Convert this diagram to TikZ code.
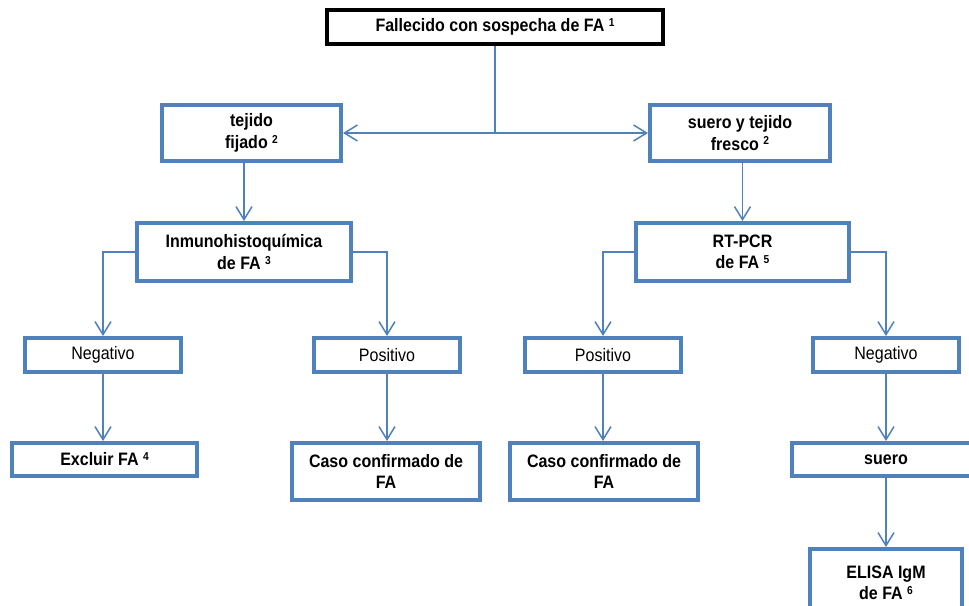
\documentclass[tikz,border=0pt]{standalone}
\usepackage{fontspec}
\setmainfont{Liberation Sans}[FakeStretch=0.89]
\usetikzlibrary{arrows.meta}

\definecolor{flowblue}{RGB}{79,129,189}
\newcommand{\fnref}[1]{\raisebox{0.55ex}{\fontsize{11.5}{11.5}\selectfont #1}}

\begin{document}
\begin{tikzpicture}[
  x=1pt, y=-1pt,
  rootbox/.style={rectangle, draw=black, line width=4pt, inner sep=0pt, font=\fontsize{18}{21.5}\selectfont\bfseries},
  stepbox/.style={rectangle, draw=flowblue, line width=4pt, inner sep=0pt, align=center, font=\fontsize{18}{21.5}\selectfont\bfseries},
  resbox/.style={stepbox, font=\fontsize{18}{21.5}\selectfont},
  link/.style={draw=flowblue, line width=1.5pt},
  arrowlink/.style={link, -{Straight Barb[length=13pt,width=16pt]}}
]
  \useasboundingbox (0,0) rectangle (969,605);
  \clip (0,0) rectangle (969,605);
  \fill [white] (0,0) rectangle (969,605);

  \node (root) [rootbox, minimum width=336pt, minimum height=34pt] at (495,27) {Fallecido con sospecha de FA \fnref{1}};

  \node (tejido) [stepbox, minimum width=179pt, minimum height=56pt] at (251.5,133) {tejido\\fijado \fnref{2}};
  \node (fresco) [stepbox, minimum width=180pt, minimum height=56pt] at (740,133) {suero y tejido\\fresco \fnref{2}};

  \node (ihq) [stepbox, minimum width=214pt, minimum height=58pt] at (244,252) {Inmunohistoquímica\\de FA \fnref{3}};
  \node (pcr) [stepbox, minimum width=213pt, minimum height=58pt] at (742.5,252) {RT-PCR\\de FA \fnref{5}};

  \node (ihqneg) [resbox, minimum width=156pt, minimum height=34pt] at (103,355) {Negativo};
  \node (ihqpos) [resbox, minimum width=146pt, minimum height=34pt] at (387,355) {Positivo};
  \node (pcrpos) [resbox, minimum width=156pt, minimum height=34pt] at (603,355) {Positivo};
  \node (pcrneg) [resbox, minimum width=146pt, minimum height=34pt] at (886,355) {Negativo};

  \node (excluir) [stepbox, minimum width=185pt, minimum height=33pt] at (104.5,459.5) {Excluir FA \fnref{4}};
  \node (caso1) [stepbox, minimum width=188pt, minimum height=57pt] at (386,471.5) {Caso confirmado de\\FA};
  \node (caso2) [stepbox, minimum width=188pt, minimum height=57pt] at (604,471.5) {Caso confirmado de\\FA};
  \node (suero) [stepbox, minimum width=188pt, minimum height=33pt] at (886,459.5) {suero};
  \node (elisa) [stepbox, minimum width=152pt, minimum height=68pt] at (886,583) {ELISA IgM\\de FA \fnref{6}};

  \coordinate (split) at (root.south |- tejido.east);
  \draw [link] (root.south) -- (split);
  \draw [arrowlink] (split) -- (tejido.east);
  \draw [arrowlink] (split) -- (fresco.west);

  \draw [arrowlink] (tejido.south -| ihq.north) -- (ihq.north);
  \draw [arrowlink] (fresco.south -| pcr.north) -- (pcr.north);

  \draw [arrowlink] (ihq.west) -| (ihqneg.north);
  \draw [arrowlink] (ihq.east) -| (ihqpos.north);
  \draw [arrowlink] (pcr.west) -| (pcrpos.north);
  \draw [arrowlink] (pcr.east) -| (pcrneg.north);

  \draw [arrowlink] (ihqneg.south) -- (ihqneg.south |- excluir.north);
  \draw [arrowlink] (ihqpos.south) -- (ihqpos.south |- caso1.north);
  \draw [arrowlink] (pcrpos.south) -- (pcrpos.south |- caso2.north);
  \draw [arrowlink] (pcrneg.south) -- (pcrneg.south |- suero.north);
  \draw [arrowlink] (suero.south) -- (suero.south |- elisa.north);
\end{tikzpicture}
\end{document}
